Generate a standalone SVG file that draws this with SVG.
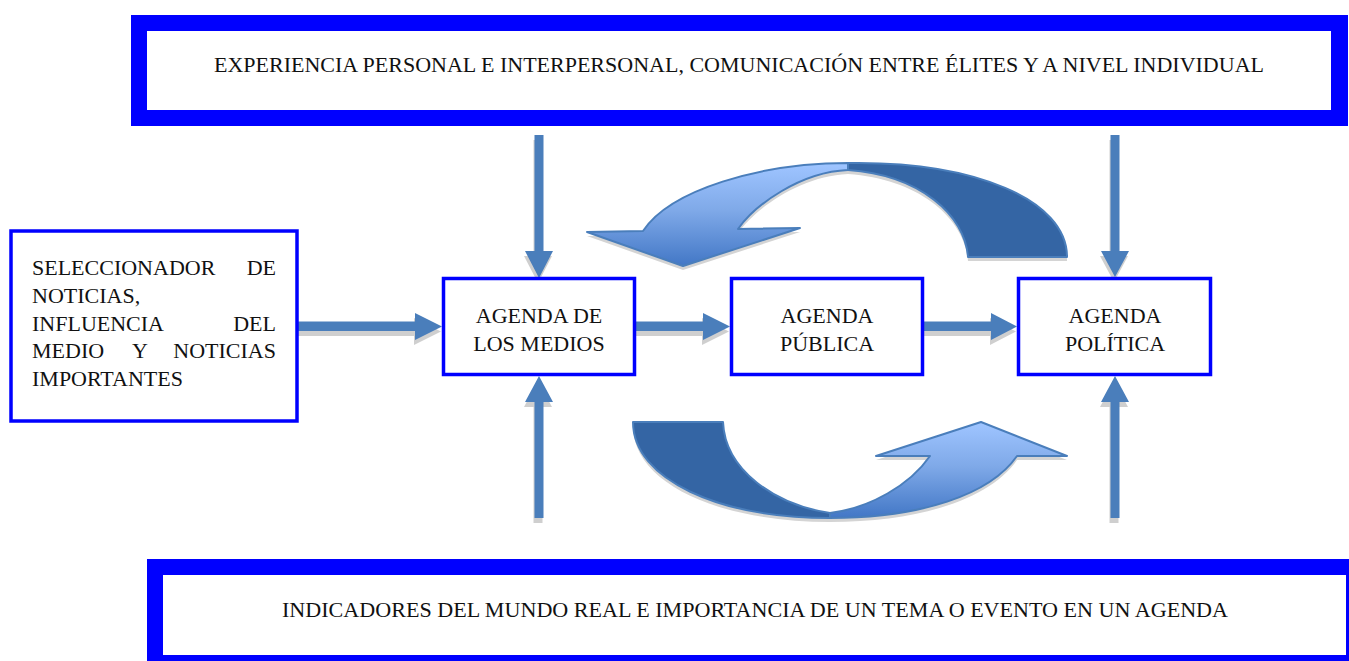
<svg xmlns="http://www.w3.org/2000/svg" width="1349" height="661" viewBox="0 0 1349 661">
<defs>
<style>
.t{font-family:"Liberation Serif","Times New Roman",serif;font-size:22px;fill:#111}
.nb{fill:#fff;stroke:#0000ff;stroke-width:3.5}
.ar{fill:#4a7ebb}
.sh{fill:#cfcfcf}
.cd{fill:#3465a4;stroke:#4a7ebb;stroke-width:2;stroke-linejoin:round}
.cs{fill:#d4d4d4}
</style>
<linearGradient id="gTop" gradientUnits="userSpaceOnUse" x1="0" y1="165" x2="0" y2="266">
<stop offset="0" stop-color="#9ec4ff"/><stop offset="0.45" stop-color="#7fa9e8"/><stop offset="1" stop-color="#4277c6"/>
</linearGradient>
<linearGradient id="gBot" gradientUnits="userSpaceOnUse" x1="0" y1="424" x2="0" y2="518">
<stop offset="0" stop-color="#9ec4ff"/><stop offset="0.45" stop-color="#7fa9e8"/><stop offset="1" stop-color="#4277c6"/>
</linearGradient>
</defs>

<g id="top-box">
<rect x="131" y="15" width="1217" height="111" fill="#0000ff"/>
<rect x="147" y="31" width="1184" height="79" fill="#fff"/>
<text class="t" x="214" y="72" textLength="1050" lengthAdjust="spacingAndGlyphs">EXPERIENCIA PERSONAL E INTERPERSONAL, COMUNICACIÓN ENTRE ÉLITES Y A NIVEL INDIVIDUAL</text>
</g>

<g id="bottom-box">
<rect x="147" y="559" width="1202" height="102" fill="#0000ff"/>
<rect x="163" y="575" width="1183" height="80" fill="#fff"/>
<text class="t" x="282" y="617" textLength="946" lengthAdjust="spacingAndGlyphs">INDICADORES DEL MUNDO REAL E IMPORTANCIA DE UN TEMA O EVENTO EN UN AGENDA</text>
</g>

<g id="connectors">
<g id="curve-top">
<path class="cs" transform="translate(0,4)" d="M848,163 C975,161 1067,200 1067,257 L968,257 C965,215 920,175 848,170 Z M848,163 C760,163 670,190 643,231 L587,232 L683,266 L800,228 L738,229 C755,205 800,172 848,170 Z"/>
<path class="cd" d="M848,163 C975,161 1067,200 1067,257 L968,257 C965,215 920,175 848,170 Z"/>
<path fill="url(#gTop)" stroke="#4a7ebb" stroke-width="2" stroke-linejoin="round" d="M848,163 C760,163 670,190 643,231 L587,232 L683,266 L800,228 L738,229 C755,205 800,172 848,170 Z"/>
</g>
<g id="curve-bottom">
<path class="cs" transform="translate(0,4)" d="M633,422 L723,422 C725,470 775,505 830,513 L830,518 C720,518 633,480 633,422 Z M830,513 C870,508 910,485 930,456 L876,456 L981,422 L1067,456 L1017,456 C990,495 920,518 830,518 Z"/>
<path class="cd" d="M633,422 L723,422 C725,470 775,505 830,513 L830,518 C720,518 633,480 633,422 Z"/>
<path fill="url(#gBot)" stroke="#4a7ebb" stroke-width="2" stroke-linejoin="round" d="M830,513 C870,508 910,485 930,456 L876,456 L981,422 L1067,456 L1017,456 C990,495 920,518 830,518 Z"/>
</g>

<g id="arrow-sel-medios">
<path class="sh" transform="translate(-1,5)" d="M298,321.5 H415 V313 L442,326.5 L415,340 V331 H298 Z"/>
<path class="ar" d="M298,321.5 H415 V313 L442,326.5 L415,340 V331 H298 Z"/>
</g>
<g id="arrow-medios-publica">
<path class="sh" transform="translate(-1,5)" d="M635,321.5 H703 V313 L730,326.5 L703,340 V331 H635 Z"/>
<path class="ar" d="M635,321.5 H703 V313 L730,326.5 L703,340 V331 H635 Z"/>
</g>
<g id="arrow-publica-politica">
<path class="sh" transform="translate(-1,5)" d="M924,321.5 H991 V313 L1017,326.5 L991,340 V331 H924 Z"/>
<path class="ar" d="M924,321.5 H991 V313 L1017,326.5 L991,340 V331 H924 Z"/>
</g>
<g id="arrow-top-medios">
<path class="sh" transform="translate(-1,5)" d="M534.5,135 H543.5 V251 H553 L539,278 L525,251 H534.5 Z"/>
<path class="ar" d="M534.5,135 H543.5 V251 H553 L539,278 L525,251 H534.5 Z"/>
</g>
<g id="arrow-top-politica">
<path class="sh" transform="translate(-1,5)" d="M1110.5,135 H1119.5 V251 H1129 L1115,277 L1101,251 H1110.5 Z"/>
<path class="ar" d="M1110.5,135 H1119.5 V251 H1129 L1115,277 L1101,251 H1110.5 Z"/>
</g>
<g id="arrow-bottom-medios">
<path class="sh" transform="translate(-1,5)" d="M534.5,518 V402 H525 L539,376 L553,402 H543.5 V518 Z"/>
<path class="ar" d="M534.5,518 V402 H525 L539,376 L553,402 H543.5 V518 Z"/>
</g>
<g id="arrow-bottom-politica">
<path class="sh" transform="translate(-1,5)" d="M1110.5,518 V402 H1101 L1115,376 L1129,402 H1119.5 V518 Z"/>
<path class="ar" d="M1110.5,518 V402 H1101 L1115,376 L1129,402 H1119.5 V518 Z"/>
</g>
</g>

<g id="seleccionador">
<rect class="nb" x="11" y="231" width="286" height="190"/>
<text class="t" x="32" y="275">SELECCIONADOR</text>
<text class="t" x="276" y="275" text-anchor="end">DE</text>
<text class="t" x="32" y="303">NOTICIAS,</text>
<text class="t" x="32" y="331">INFLUENCIA</text>
<text class="t" x="276" y="331" text-anchor="end">DEL</text>
<text class="t" x="32" y="358">MEDIO</text>
<text class="t" x="140" y="358" text-anchor="middle">Y</text>
<text class="t" x="276" y="358" text-anchor="end">NOTICIAS</text>
<text class="t" x="32" y="386">IMPORTANTES</text>
</g>

<g id="agenda-medios">
<rect class="nb" x="443.5" y="278.5" width="191" height="96"/>
<text class="t" x="539" y="323" text-anchor="middle">AGENDA DE</text>
<text class="t" x="539" y="351" text-anchor="middle">LOS MEDIOS</text>
</g>

<g id="agenda-publica">
<rect class="nb" x="731.5" y="278.5" width="191" height="96"/>
<text class="t" x="827" y="323" text-anchor="middle">AGENDA</text>
<text class="t" x="827" y="351" text-anchor="middle">PÚBLICA</text>
</g>

<g id="agenda-politica">
<rect class="nb" x="1018.5" y="278.5" width="192" height="96"/>
<text class="t" x="1115" y="323" text-anchor="middle">AGENDA</text>
<text class="t" x="1115" y="351" text-anchor="middle">POLÍTICA</text>
</g>
</svg>
